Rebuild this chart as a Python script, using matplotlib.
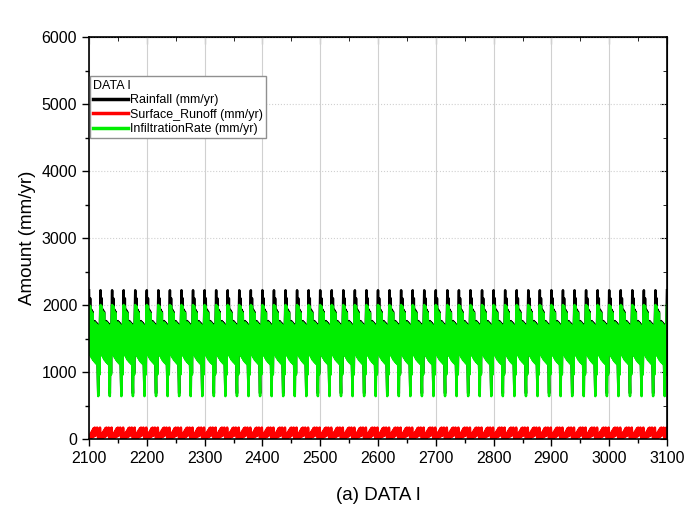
import numpy as np
import matplotlib as mpl
import matplotlib.pyplot as plt
from matplotlib.ticker import MultipleLocator

mpl.rcParams['font.family'] = ['Liberation Sans', 'DejaVu Sans']

# one 20-year cycle; the series repeat it
years = np.arange(2100, 3101)
rain_cycle = [2220, 1300, 2100, 1260, 1930, 1230, 1900, 1200, 1750, 1180, 1760, 1160,
              1740, 1140, 1720, 1100, 680, 1700, 980, 1720]
runoff_cycle = [40, 0, 70, 10, 100, 20, 130, 30, 160, 40, 170, 50, 140, 60, 170, 70,
                0, 150, 20, 170]
infil_cycle = [2000, 1280, 1980, 1240, 1900, 1210, 1880, 1180, 1730, 1160, 1740, 1140,
               1720, 1120, 1700, 1080, 640, 1690, 960, 1710]

n = len(years)
reps = n // len(rain_cycle) + 1
rain = np.tile(rain_cycle, reps)[:n]
runoff = np.tile(runoff_cycle, reps)[:n]
infil = np.tile(infil_cycle, reps)[:n]

fig = plt.figure(figsize=(6.84, 5.13), dpi=100)
ax = fig.add_axes([89/684, 1 - 439/513, 578/684, 402/513])

ax.plot(years, rain, color='black', lw=1.8, label='Rainfall (mm/yr)')
ax.plot(years, runoff, color='#ff0000', lw=1.8, label='Surface_Runoff (mm/yr)')
ax.plot(years, infil, color='#00ee00', lw=1.8, label='InfiltrationRate (mm/yr)')

ax.set_xlim(2100, 3100)
ax.set_ylim(0, 6000)
ax.xaxis.set_major_locator(MultipleLocator(100))
ax.xaxis.set_minor_locator(MultipleLocator(50))
ax.yaxis.set_major_locator(MultipleLocator(1000))
ax.yaxis.set_minor_locator(MultipleLocator(500))

ax.tick_params(which='both', labelsize=11.5, width=1)
ax.tick_params(which='major', length=5)
ax.tick_params(which='minor', length=3)
# outer ticks on left/bottom, inner ones on top/right
sec_x = ax.secondary_xaxis('top')
sec_x.xaxis.set_major_locator(MultipleLocator(100))
sec_x.xaxis.set_minor_locator(MultipleLocator(50))
sec_x.tick_params(which='both', direction='in', labeltop=False)
sec_x.tick_params(which='major', length=5)
sec_x.tick_params(which='minor', length=3)
sec_y = ax.secondary_yaxis('right')
sec_y.yaxis.set_major_locator(MultipleLocator(1000))
sec_y.yaxis.set_minor_locator(MultipleLocator(500))
sec_y.tick_params(which='both', direction='in', labelright=False)
sec_y.tick_params(which='major', length=5)
sec_y.tick_params(which='minor', length=3)

for sp in ax.spines.values():
    sp.set_linewidth(1.2)

ax.grid(axis='x', color='#d0d0d0', lw=0.8)
ax.grid(axis='y', color='#d0d0d0', lw=0.8, ls=':')
ax.set_axisbelow(True)

ax.set_ylabel('Amount (mm/yr)', fontsize=13.5)
fig.text(378/684, 1 - 495/513, '(a) DATA I', ha='center', va='center', fontsize=13.5)

leg = ax.legend(loc='upper left', bbox_to_anchor=(0.002, 0.902), title='DATA I',
                fontsize=9, title_fontsize=9, frameon=True, fancybox=False,
                edgecolor='#909090', framealpha=1, handlelength=2.8,
                handletextpad=0.15, borderpad=0.25, labelspacing=0.2,
                borderaxespad=0)
leg._legend_box.align = 'left'
for line in leg.get_lines():
    line.set_linewidth(2.5)

fig.savefig('out.png', dpi=100)
